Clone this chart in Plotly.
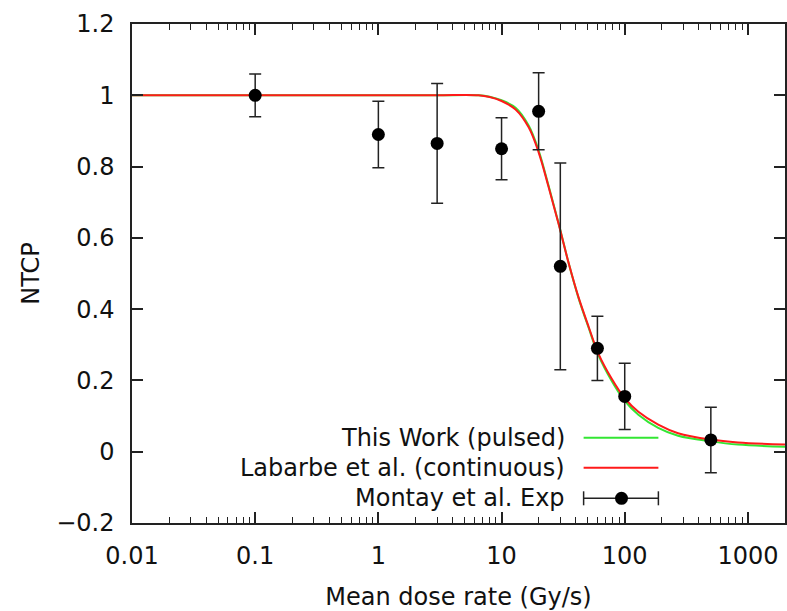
import plotly.graph_objects as go

# ---- data ----
curve_x = [0.01, 0.1, 1, 3, 6.5, 8, 10, 13, 16.6, 20, 24, 29, 35, 42, 51, 61, 78, 100, 129, 187, 271, 500, 830, 2000]
pulsed_y = [1, 1, 1, 1, 1.0, 0.996, 0.986, 0.965, 0.915, 0.845, 0.748, 0.642, 0.53, 0.433, 0.347, 0.272, 0.200, 0.143, 0.104, 0.067, 0.045, 0.029, 0.020, 0.014]
continuous_y = [1, 1, 1, 1, 1.0, 0.995, 0.984, 0.96, 0.91, 0.84, 0.745, 0.64, 0.53, 0.435, 0.35, 0.276, 0.206, 0.150, 0.112, 0.076, 0.052, 0.034, 0.026, 0.020]

exp_x = [0.1, 1, 3, 10, 20, 30, 60, 100, 500]
exp_y = [1.0, 0.89, 0.865, 0.85, 0.955, 0.52, 0.29, 0.155, 0.033]
exp_err = [0.06, 0.093, 0.168, 0.087, 0.108, 0.29, 0.09, 0.093, 0.092]

x_tickvals = [0.01, 0.1, 1, 10, 100, 1000]
x_ticktext = ["0.01", "0.1", "1", "10", "100", "1000"]
y_tickvals = [-0.2, 0, 0.2, 0.4, 0.6, 0.8, 1.0, 1.2]
y_ticktext = ["\u22120.2", "0", "0.2", "0.4", "0.6", "0.8", "1", "1.2"]

legend_labels = ["This Work (pulsed)", "Labarbe et al. (continuous)", "Montay et al. Exp"]

GREEN = "#33e633"
RED = "#ff1a1a"
FONT = "DejaVu Sans"
FS = 24

fig = go.Figure()
fig.add_trace(go.Scatter(x=curve_x, y=pulsed_y, mode="lines", line=dict(color=GREEN, width=2, shape="spline"),
                         name=legend_labels[0], showlegend=False))
fig.add_trace(go.Scatter(x=curve_x, y=continuous_y, mode="lines", line=dict(color=RED, width=2, shape="spline"),
                         name=legend_labels[1], showlegend=False))
fig.add_trace(go.Scatter(x=exp_x, y=exp_y, mode="markers",
                         marker=dict(color="black", size=13),
                         error_y=dict(type="data", array=exp_err, color="#222222", thickness=1.5, width=6),
                         name=legend_labels[2], showlegend=False))

W, H = 787, 611
L, R, T, B = 132, 0, 24, 88
pw, ph = W - L - R, H - T - B

def px(x):
    return (x - L) / pw

def py(y):
    return (H - B - y) / ph

# manual legend (gnuplot style: text right, sample left)
rows = [437.7, 467.7, 498.3]
sx0, sx1, scx, tx = 585, 660, 623, 568
shapes = []
annotations = []
for i, (lab, yy) in enumerate(zip(legend_labels, rows)):
    annotations.append(dict(x=px(tx), y=py(yy), xref="paper", yref="paper", text=lab, showarrow=False,
                            xanchor="right", yanchor="middle", font=dict(family=FONT, size=FS, color="#111111")))
shapes.append(dict(type="line", xref="paper", yref="paper", x0=px(sx0), x1=px(sx1), y0=py(rows[0]), y1=py(rows[0]),
                   line=dict(color=GREEN, width=2)))
shapes.append(dict(type="line", xref="paper", yref="paper", x0=px(sx0), x1=px(sx1), y0=py(rows[1]), y1=py(rows[1]),
                   line=dict(color=RED, width=2)))
shapes.append(dict(type="line", xref="paper", yref="paper", x0=px(sx0), x1=px(sx1), y0=py(rows[2]), y1=py(rows[2]),
                   line=dict(color="#222222", width=1.5)))
for cx in (sx0, sx1):
    shapes.append(dict(type="line", xref="paper", yref="paper", xsizemode="pixel", ysizemode="pixel",
                       xanchor=px(cx), yanchor=py(rows[2]), x0=0, x1=0, y0=-7, y1=7,
                       line=dict(color="#222222", width=1.5)))
shapes.append(dict(type="circle", xref="paper", yref="paper", xsizemode="pixel", ysizemode="pixel",
                   xanchor=px(scx), yanchor=py(rows[2]), x0=-6.5, x1=6.5, y0=-6.5, y1=6.5,
                   fillcolor="black", line=dict(color="black", width=0)))

fig.update_layout(
    width=W, height=H,
    margin=dict(l=L, r=R, t=T, b=B, pad=0),
    paper_bgcolor="white", plot_bgcolor="white",
    font=dict(family=FONT, size=FS, color="#111111"),
    shapes=shapes, annotations=annotations,
    showlegend=False,
)
fig.update_xaxes(
    type="log", range=[-2, 3.30103],
    tickvals=x_tickvals, ticktext=x_ticktext,
    ticks="inside", ticklen=11, tickwidth=1.5, tickcolor="#222222",
    minor=dict(ticks="inside", ticklen=6, tickwidth=1.2, tickcolor="#222222", dtick="D1", showgrid=False),
    showline=True, linecolor="#222222", linewidth=1.5, mirror="ticks",
    showgrid=False, zeroline=False,
    ticklabelstandoff=10,
    title=dict(text="Mean dose rate (Gy/s)", font=dict(family=FONT, size=FS), standoff=24),
)
fig.update_yaxes(
    range=[-0.2, 1.2],
    tickvals=y_tickvals, ticktext=y_ticktext,
    ticks="inside", ticklen=11, tickwidth=1.5, tickcolor="#222222",
    showline=True, linecolor="#222222", linewidth=1.5, mirror="ticks",
    showgrid=False, zeroline=False,
    ticklabelstandoff=11,
    title=dict(text="NTCP", font=dict(family=FONT, size=FS), standoff=10),
)

fig.write_html("out.html", config={"displayModeBar": False},
               post_script="document.body.style.margin='0';")
